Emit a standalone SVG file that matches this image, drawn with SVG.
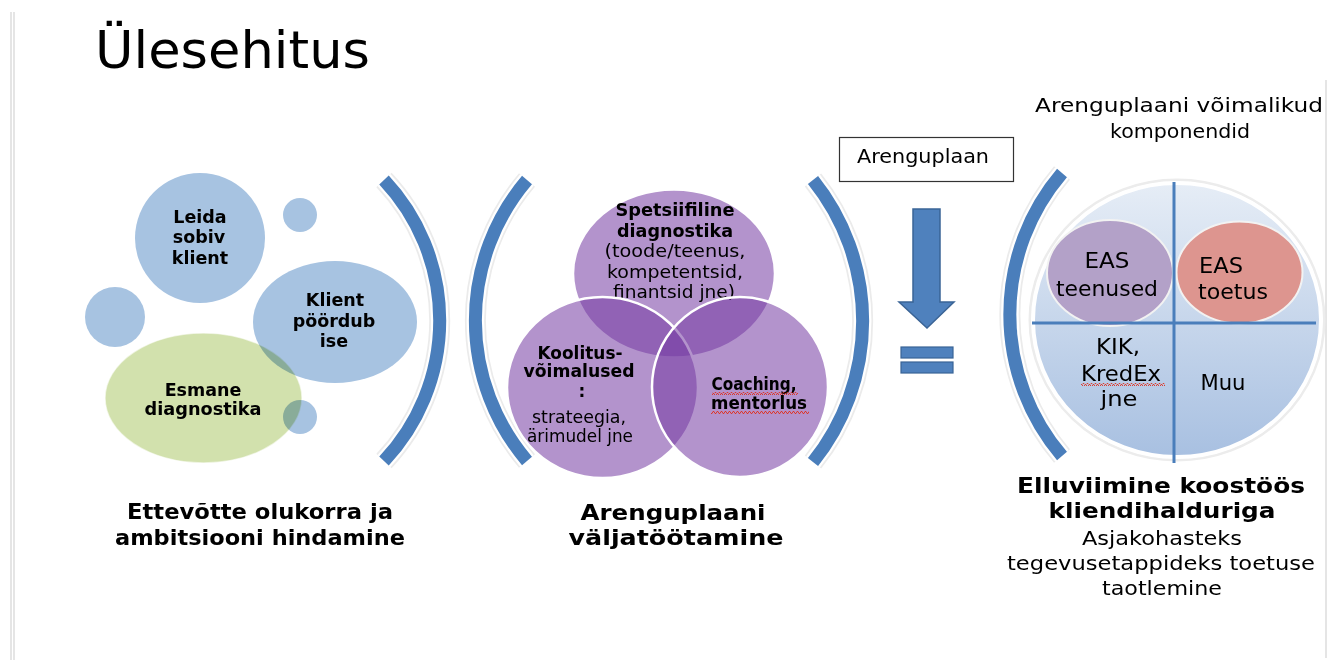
<svg xmlns="http://www.w3.org/2000/svg" width="1335" height="661" viewBox="0 0 1335 661">
  <style>
    text { font-family: "DejaVu Sans", Verdana, sans-serif; fill: #000; }
    .b { font-weight: bold; }
    .c { text-anchor: middle; }
    .bub { font-size: 17.5px; font-weight: bold; text-anchor: middle; }
    .ven { font-size: 17px; text-anchor: middle; }
    .rc { font-size: 21px; }
    .lbl { font-size: 22px; font-weight: bold; text-anchor: middle; }
    .blueb { fill: #a7c3e1; }
    .purp { fill: #753aa2; fill-opacity: 0.55; stroke: #ffffff; stroke-width: 2.5; }
    .brk-sh { fill: none; stroke: #ebebeb; stroke-width: 21; }
    .brk-w { fill: none; stroke: #ffffff; stroke-width: 17.5; }
    .brk { fill: none; stroke: #4a7ebb; stroke-width: 13; }
    .frame { stroke: #d4d4d4; stroke-width: 1.2; fill: none; }
  </style>
  <defs>
    <linearGradient id="bigGrad" x1="0" y1="0" x2="0" y2="1">
      <stop offset="0" stop-color="#e6edf6"/>
      <stop offset="1" stop-color="#a8c0e1"/>
    </linearGradient>
    <pattern id="wave" width="4" height="3" patternUnits="userSpaceOnUse">
      <path d="M0 2.5 L1 0.5 L2 0.5 L3 2.5 L4 2.5" fill="none" stroke="#e0301e" stroke-width="0.9"/>
    </pattern>
  </defs>

  <rect width="1335" height="661" fill="#ffffff"/>

  <!-- faint screenshot frame -->
  <g id="frame">
    <line class="frame" x1="11" y1="12" x2="11" y2="660"/>
    <line class="frame" x1="14" y1="12" x2="14" y2="660"/>
    <line class="frame" x1="1326" y1="80" x2="1326" y2="658"/>
  </g>

  <g id="title">
    <text x="95" y="68" font-size="52" textLength="275" lengthAdjust="spacingAndGlyphs">Ülesehitus</text>
  </g>

  <!-- Left cluster -->
  <g id="bubble-leida">
    <circle class="blueb" cx="200" cy="238" r="65"/>
    <text class="bub" x="200" y="223">Leida</text>
    <text class="bub" x="199" y="243">sobiv</text>
    <text class="bub" x="200" y="264">klient</text>
  </g>
  <g id="bubble-small1"><circle class="blueb" cx="300" cy="215" r="17"/></g>
  <g id="bubble-small2"><circle class="blueb" cx="115" cy="317" r="30"/></g>
  <g id="bubble-small3"><circle class="blueb" cx="300" cy="417" r="17"/></g>
  <g id="bubble-klient">
    <ellipse class="blueb" cx="335" cy="322" rx="82" ry="61"/>
    <text class="bub" x="335" y="306">Klient</text>
    <text class="bub" x="334" y="327">pöördub</text>
    <text class="bub" x="334" y="347">ise</text>
  </g>
  <g id="bubble-esmane">
    <ellipse cx="203.5" cy="398" rx="98.5" ry="65" fill="#d2e1ad" style="mix-blend-mode:multiply" stroke="#ffffff" stroke-opacity="0.6" stroke-width="1.5"/>
    <text class="bub" x="203" y="396">Esmane</text>
    <text class="bub" x="203" y="415" textLength="117" lengthAdjust="spacingAndGlyphs">diagnostika</text>
  </g>

  <!-- Brackets -->
  <g id="brackets">
    <path class="brk-sh" d="M 384 180 A 205 205 0 0 1 384 461"/>
    <path class="brk-w" d="M 384 180 A 205 205 0 0 1 384 461"/>
    <path class="brk" d="M 384 180 A 205 205 0 0 1 384 461"/>

    <path class="brk-sh" d="M 527 180 A 217 217 0 0 0 527 461"/>
    <path class="brk-w" d="M 527 180 A 217 217 0 0 0 527 461"/>
    <path class="brk" d="M 527 180 A 217 217 0 0 0 527 461"/>

    <path class="brk-sh" d="M 813 180 A 225 225 0 0 1 813 462"/>
    <path class="brk-w" d="M 813 180 A 225 225 0 0 1 813 462"/>
    <path class="brk" d="M 813 180 A 225 225 0 0 1 813 462"/>

    <path class="brk-sh" d="M 1062 173 A 218 218 0 0 0 1062 456"/>
    <path class="brk-w" d="M 1062 173 A 218 218 0 0 0 1062 456"/>
    <path class="brk" d="M 1062 173 A 218 218 0 0 0 1062 456"/>
  </g>

  <!-- Venn -->
  <g id="venn-spetsiifiline">
    <ellipse class="purp" cx="674" cy="273.5" rx="101" ry="84"/>
    <text class="ven b" x="675" y="216" textLength="119" lengthAdjust="spacingAndGlyphs">Spetsiifiline</text>
    <text class="ven b" x="675" y="237" textLength="116" lengthAdjust="spacingAndGlyphs">diagnostika</text>
    <text class="ven" x="675" y="257" textLength="141" lengthAdjust="spacingAndGlyphs">(toode/teenus,</text>
    <text class="ven" x="675" y="278" textLength="136" lengthAdjust="spacingAndGlyphs">kompetentsid,</text>
    <text class="ven" x="674" y="298" textLength="122" lengthAdjust="spacingAndGlyphs">finantsid  jne)</text>
  </g>
  <g id="venn-koolitus">
    <ellipse class="purp" cx="602.5" cy="387.5" rx="95.5" ry="90.5"/>
    <text class="ven b" x="580" y="359" textLength="85" lengthAdjust="spacingAndGlyphs">Koolitus-</text>
    <text class="ven b" x="579" y="377" textLength="111" lengthAdjust="spacingAndGlyphs">võimalused</text>
    <text class="ven b" x="582" y="397">:</text>
    <text class="ven" x="579" y="423" font-size="16" textLength="94" lengthAdjust="spacingAndGlyphs">strateegia,</text>
    <text class="ven" x="580" y="442" font-size="16" textLength="106" lengthAdjust="spacingAndGlyphs">ärimudel  jne</text>
  </g>
  <g id="venn-coaching">
    <ellipse class="purp" cx="740" cy="387" rx="88" ry="90"/>
    <text class="ven b" x="754" y="390" textLength="85" lengthAdjust="spacingAndGlyphs">Coaching,</text>
    <text class="ven b" x="759" y="409" textLength="96" lengthAdjust="spacingAndGlyphs">mentorlus</text>
    <rect x="712" y="392" width="86" height="3" fill="url(#wave)"/>
    <rect x="711" y="411" width="98" height="3" fill="url(#wave)"/>
  </g>

  <!-- Arenguplaan box -->
  <g id="arenguplaan-box">
    <rect x="839.5" y="137.5" width="174" height="44" fill="#ffffff" stroke="#333333" stroke-width="1.2"/>
    <text x="857" y="163" font-size="19" textLength="132" lengthAdjust="spacingAndGlyphs">Arenguplaan</text>
  </g>

  <!-- Arrow and equals -->
  <g id="connectors">
    <polygon points="913,209 940,209 940,302 954,302 927,328 899,302 913,302" fill="#4f81bd" stroke="#3a6496" stroke-width="1.5"/>
    <rect x="901" y="347" width="52" height="11" fill="#4f81bd" stroke="#3a6496" stroke-width="1.2"/>
    <rect x="901" y="362" width="52" height="11" fill="#4f81bd" stroke="#3a6496" stroke-width="1.2"/>
  </g>

  <!-- Right components -->
  <g id="components-title">
    <text x="1179" y="112" font-size="20" text-anchor="middle" textLength="288" lengthAdjust="spacingAndGlyphs">Arenguplaani võimalikud</text>
    <text x="1180" y="138" font-size="20" text-anchor="middle" textLength="140" lengthAdjust="spacingAndGlyphs">komponendid</text>
  </g>
  <g id="components-circle">
    <ellipse cx="1177" cy="320" rx="147" ry="140" fill="none" stroke="#ececec" stroke-width="3"/>
    <ellipse cx="1177" cy="320" rx="144" ry="137" fill="url(#bigGrad)" stroke="#ffffff" stroke-width="4"/>
  </g>
  <g id="eas-teenused">
    <ellipse cx="1110" cy="273" rx="63" ry="53" fill="#b3a1c8" stroke="#f2f2f2" stroke-width="2"/>
    <text class="rc c" x="1107" y="268" textLength="45" lengthAdjust="spacingAndGlyphs">EAS</text>
    <text class="rc c" x="1107" y="296" textLength="102" lengthAdjust="spacingAndGlyphs">teenused</text>
  </g>
  <g id="eas-toetus">
    <ellipse cx="1239.5" cy="272.5" rx="63" ry="51" fill="#dd958f" stroke="#f2f2f2" stroke-width="2"/>
    <text class="rc" x="1199" y="273" textLength="44" lengthAdjust="spacingAndGlyphs">EAS</text>
    <text class="rc" x="1198" y="299" textLength="70" lengthAdjust="spacingAndGlyphs">toetus</text>
  </g>
  <g id="cross">
    <line x1="1174" y1="182" x2="1174" y2="463" stroke="#4a7ebb" stroke-width="3"/>
    <line x1="1032" y1="323" x2="1316" y2="323" stroke="#4a7ebb" stroke-width="3"/>
  </g>
  <g id="kik-kredex">
    <text class="rc c" x="1118" y="354" textLength="44" lengthAdjust="spacingAndGlyphs">KIK,</text>
    <text class="rc c" x="1121" y="381" textLength="80" lengthAdjust="spacingAndGlyphs">KredEx</text>
    <rect x="1081" y="383" width="84" height="3" fill="url(#wave)"/>
    <text class="rc c" x="1119" y="406" textLength="37" lengthAdjust="spacingAndGlyphs">jne</text>
  </g>
  <g id="muu">
    <text class="rc c" x="1223" y="390" textLength="45" lengthAdjust="spacingAndGlyphs">Muu</text>
  </g>

  <!-- Bottom labels -->
  <g id="label-left">
    <text class="lbl" x="260" y="519" textLength="266" lengthAdjust="spacingAndGlyphs">Ettevõtte olukorra ja</text>
    <text class="lbl" x="260" y="545" textLength="290" lengthAdjust="spacingAndGlyphs">ambitsiooni hindamine</text>
  </g>
  <g id="label-middle">
    <text class="lbl" x="673" y="520" font-size="24" textLength="185" lengthAdjust="spacingAndGlyphs">Arenguplaani</text>
    <text class="lbl" x="676" y="545" font-size="24" textLength="215" lengthAdjust="spacingAndGlyphs">väljatöötamine</text>
  </g>
  <g id="label-right">
    <text class="lbl" x="1161" y="493" font-size="24" textLength="288" lengthAdjust="spacingAndGlyphs">Elluviimine koostöös</text>
    <text class="lbl" x="1162" y="518" font-size="24" textLength="227" lengthAdjust="spacingAndGlyphs">kliendihalduriga</text>
    <text x="1162" y="545" font-size="20" text-anchor="middle" textLength="160" lengthAdjust="spacingAndGlyphs">Asjakohasteks</text>
    <text x="1161" y="570" font-size="20" text-anchor="middle" textLength="308" lengthAdjust="spacingAndGlyphs">tegevusetappideks toetuse</text>
    <text x="1162" y="595" font-size="20" text-anchor="middle" textLength="120" lengthAdjust="spacingAndGlyphs">taotlemine</text>
  </g>
</svg>
